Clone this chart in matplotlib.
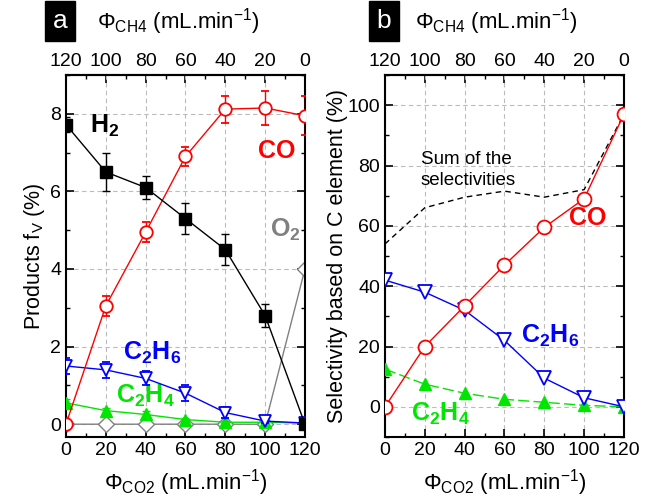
import matplotlib
matplotlib.use("Agg")
import matplotlib.pyplot as plt
from matplotlib.ticker import MultipleLocator, FixedLocator
import numpy as np

plt.rcParams["font.family"] = ["Liberation Sans", "DejaVu Sans"]
plt.rcParams["mathtext.fontset"] = "custom"
plt.rcParams["mathtext.rm"] = "Liberation Sans"
plt.rcParams["mathtext.it"] = "Liberation Sans:italic"
plt.rcParams["mathtext.bf"] = "Liberation Sans:bold"

# flow rate of CO2 (mL/min); CH4 = 120 - CO2
co2_flow = [0, 20, 40, 60, 80, 100, 120]

# panel a: products volume fraction (%)
h2 = [7.72, 6.5, 6.1, 5.3, 4.5, 2.8, 0.0]
h2_err = [0.2, 0.5, 0.3, 0.4, 0.4, 0.3, 0.0]
co = [0.0, 3.05, 4.95, 6.9, 8.12, 8.15, 7.95]
co_err = [0.0, 0.25, 0.25, 0.25, 0.35, 0.45, 0.5]
o2 = [0.0, 0.0, 0.0, 0.0, 0.0, 0.0, 4.0]
c2h6 = [1.5, 1.4, 1.18, 0.8, 0.3, 0.08, 0.03]
c2h6_err = [0.2, 0.2, 0.18, 0.2, 0.15, 0.05, 0.02]
c2h4 = [0.55, 0.35, 0.25, 0.12, 0.05, 0.05, 0.03]
c2h4_err = [0.1, 0.08, 0.08, 0.05, 0.03, 0.02, 0.02]

# panel b: selectivity based on C element (%)
sel_co = [0.0, 20.0, 33.5, 47.0, 59.5, 69.0, 97.0]
sel_c2h6 = [42.0, 38.0, 32.0, 22.0, 9.5, 3.0, 0.0]
sel_c2h4 = [12.5, 7.5, 4.5, 2.5, 1.5, 0.5, 0.0]
sel_sum = [54.0, 66.0, 69.5, 71.5, 69.5, 72.0, 97.0]

RED = "#ff0000"
BLUE = "#0000ff"
GREEN = "#00e600"
GRAY = "#808080"

fig = plt.figure(figsize=(6.54, 5.0), dpi=100)
ax1 = fig.add_axes([0.1009, 0.126, 0.3654, 0.724])
ax2 = fig.add_axes([0.5887, 0.126, 0.3654, 0.724])

ms = 8
ax1.errorbar(co2_flow, o2, color=GRAY, marker="D", mfc="white", mec=GRAY,
             ms=8, lw=1, zorder=2)
ax1.errorbar(co2_flow, c2h4, yerr=c2h4_err, color=GREEN, marker="^", ms=ms,
             lw=1, capsize=3, zorder=3)
ax1.errorbar(co2_flow, c2h6, yerr=c2h6_err, color=BLUE, marker="v", mfc="white",
             mec=BLUE, mew=1.3, ms=ms + 1, lw=1, capsize=3, zorder=4)
ax1.errorbar(co2_flow, co, yerr=co_err, color=RED, marker="o", mfc="white",
             mec=RED, mew=1.3, ms=ms + 1, lw=1, capsize=3, zorder=5)
ax1.errorbar(co2_flow, h2, yerr=h2_err, color="black", marker="s", ms=ms,
             lw=1, capsize=3, zorder=6)

ax2.plot(co2_flow, sel_sum, color="black", ls=(0, (4, 3)), lw=1, zorder=2)
ax2.plot(co2_flow, sel_c2h4, color=GREEN, ls=(0, (8, 3)), lw=1, marker="^",
         ms=ms + 1, zorder=3)
ax2.plot(co2_flow, sel_c2h6, color=BLUE, lw=1, marker="v", mfc="white", mec=BLUE,
         mew=1.3, ms=ms + 2, zorder=4)
ax2.plot(co2_flow, sel_co, color=RED, lw=1, marker="o", mfc="white", mec=RED,
         mew=1.3, ms=ms + 2, zorder=5)

ax1.set_ylim(-0.33, 9.0)
ax1.yaxis.set_major_locator(MultipleLocator(2))
ax1.yaxis.set_minor_locator(MultipleLocator(1))
ax2.set_ylim(-10, 110)
ax2.yaxis.set_major_locator(MultipleLocator(20))
ax2.yaxis.set_minor_locator(MultipleLocator(10))

for ax in (ax1, ax2):
    ax.set_xlim(0, 120)
    ax.xaxis.set_major_locator(MultipleLocator(20))
    ax.xaxis.set_minor_locator(MultipleLocator(10))
    ax.grid(True, which="major", color="#bbbbbb", ls=(0, (4, 3)), lw=0.8)
    ax.tick_params(which="both", direction="in", right=True, labelsize=14)
    ax.tick_params(which="major", length=6, width=1.2)
    ax.tick_params(which="minor", length=3, width=1)
    for sp in ax.spines.values():
        sp.set_linewidth(1.5)
    ax.set_xlabel(r"$\Phi_{\mathrm{CO2}}$ (mL.min$^{-1}$)", fontsize=16, labelpad=6)
    top = ax.secondary_xaxis("top", functions=(lambda x: 120 - x, lambda x: 120 - x))
    top.xaxis.set_major_locator(FixedLocator([0, 20, 40, 60, 80, 100, 120]))
    top.xaxis.set_minor_locator(FixedLocator([10, 30, 50, 70, 90, 110]))
    top.tick_params(which="both", direction="in", labelsize=14)
    top.tick_params(which="major", length=6, width=1.2)
    top.tick_params(which="minor", length=3, width=1)
    top.spines["top"].set_linewidth(1.5)

ax1.set_ylabel(r"Products f$_\mathrm{V}$ (%)", fontsize=15.5, labelpad=2)
ax2.set_ylabel("Selectivity based on C element (%)", fontsize=15.5, labelpad=0)

# species labels, panel a
big = dict(fontsize=18, fontweight="bold")
ax1.text(12, 7.7, r"$\mathbf{H_2}$", color="black", ha="left", va="center", **big)
ax1.text(106, 7.05, "CO", color=RED, ha="center", va="center", **big)
ax1.text(110, 5.0, r"$\mathbf{O_2}$", color=GRAY, ha="center", va="center", **big)
ax1.text(43, 1.85, r"$\mathbf{C_2H_6}$", color=BLUE, ha="center", va="center", **big)
ax1.text(40, 0.72, r"$\mathbf{C_2H_4}$", color=GREEN, ha="center", va="center", **big)

# species labels, panel b
ax2.text(102, 62.5, "CO", color=RED, ha="center", va="center", **big)
ax2.text(83, 23.5, r"$\mathbf{C_2H_6}$", color=BLUE, ha="center", va="center", **big)
ax2.text(28, -2.5, r"$\mathbf{C_2H_4}$", color=GREEN, ha="center", va="center", **big)
ax2.text(18, 78.5, "Sum of the\nselectivities", color="black", ha="left",
         va="center", fontsize=13.5, linespacing=1.25)

# panel tags and top axis titles
for tag, x_box, x_txt in (("a", 42 / 654, 97 / 654), ("b", 366 / 654, 415 / 654)):
    fig.text(x_box + 18 / 654, 1 - 21 / 500, tag, color="white", fontsize=19,
             ha="center", va="center",
             bbox=dict(boxstyle="square,pad=0.3", fc="black", ec="black"))
    fig.text(x_txt, 1 - 22 / 500, r"$\Phi_{\mathrm{CH4}}$ (mL.min$^{-1}$)",
             fontsize=16, ha="left", va="center")

fig.savefig("out.png", dpi=100)
